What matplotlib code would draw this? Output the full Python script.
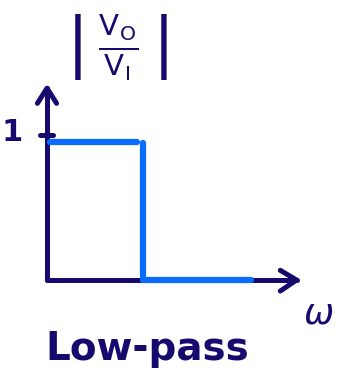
import numpy as np
import matplotlib.pyplot as plt

# ideal low-pass magnitude response
cutoff = 1.0
omega_pass = [0.03, 0.94]
gain_pass = [1.0, 1.0]
omega_stop = [1.0, 2.13]
gain_stop = [0.0, 0.0]
tick_gain = 1.0

navy = '#160a6e'
blue = '#0a6cff'

fig = plt.figure(figsize=(3.39, 3.72), dpi=100)
ax = fig.add_axes([0, 0, 1, 1])
ax.set_xlim(-47 / 96, (339 - 47) / 96)
ax.set_ylim(-92 / 138, (372 - 92) / 138)
ax.axis('off')

# axes with open arrowheads
x_end, y_end = 2.6, 1.39
ax.plot([0, 0], [0, y_end], color=navy, lw=3.6, solid_capstyle='round')
ax.plot([0, x_end], [0, 0], color=navy, lw=3.6, solid_capstyle='round')
ax.plot([-0.1, 0, 0.1], [y_end - 0.11, y_end, y_end - 0.11], color=navy, lw=3.6,
        solid_capstyle='round', solid_joinstyle='round')
ax.plot([x_end - 0.17, x_end, x_end - 0.17], [0.07, 0, -0.08], color=navy, lw=3.6,
        solid_capstyle='round', solid_joinstyle='round')

# tick at unity gain
ax.plot([-0.07, 0.06], [tick_gain + 0.05, tick_gain + 0.05], color=navy, lw=3.6,
        solid_capstyle='round')
ax.text(-0.36, tick_gain + 0.07, '1', color=navy, fontsize=22, fontweight='bold',
        ha='center', va='center')

# response
ax.plot(omega_pass, gain_pass, color=blue, lw=4.5, solid_capstyle='round')
ax.plot([cutoff, cutoff], [0.99, 0.0], color=blue, lw=4.5, solid_capstyle='round')
ax.plot(omega_stop, gain_stop, color=blue, lw=4.5, solid_capstyle='round')

ax.text(0.73, 1.68, r'$\left|\;\frac{\mathrm{V_O}}{\mathrm{V_I}}\;\right|$', color=navy,
        fontsize=30, ha='center', va='center')
ax.text(2.83, -0.24, r'$\omega$', color=navy, fontsize=26, ha='center', va='center')
ax.text(-0.02, -0.5, 'Low-pass', color=navy, fontsize=28, fontweight='bold',
        ha='left', va='center')

fig.savefig('out.png', dpi=100)
